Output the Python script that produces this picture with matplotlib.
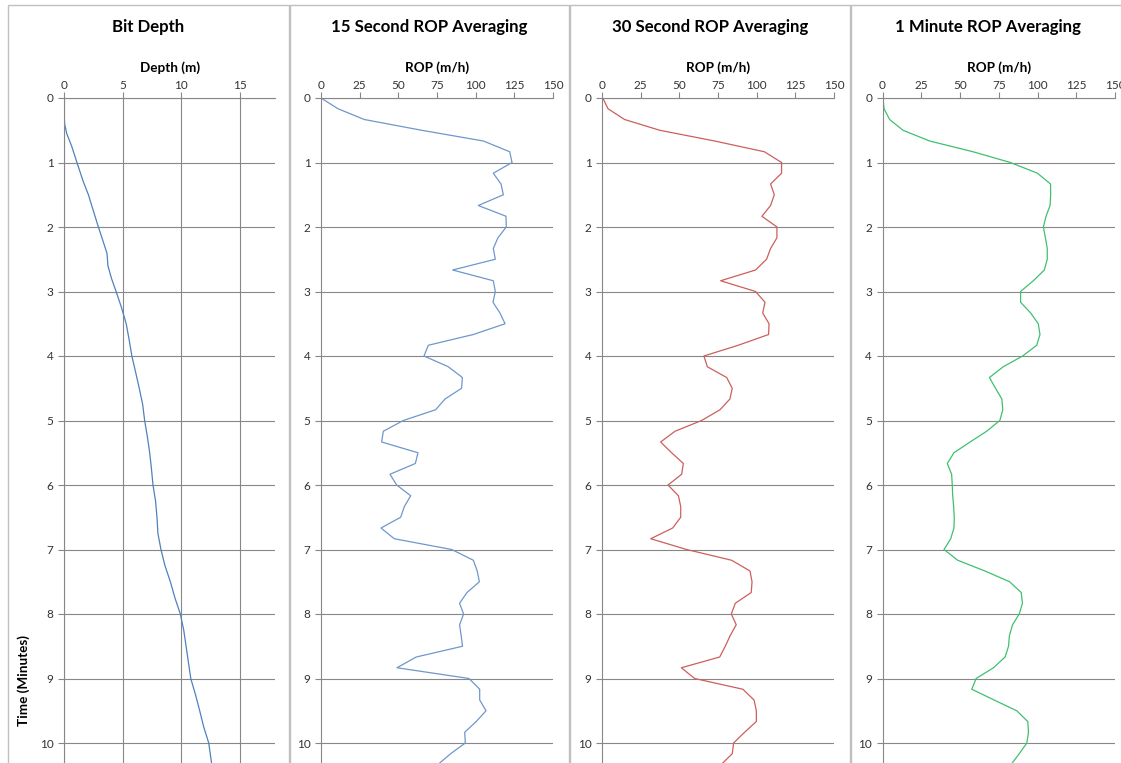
import matplotlib
matplotlib.use("Agg")
import matplotlib.pyplot as plt
from matplotlib.patches import Rectangle
import numpy as np

plt.rcParams['font.family'] = ['Lato', 'DejaVu Sans']

# time samples every 10 seconds
time_s = list(range(0, 630, 10))
minutes = np.array(time_s) / 60.0

# bit depth (m) vs time (min)
depth_t = [0, 0.2, 0.4, 0.55, 0.75, 1.0, 1.3, 1.5, 1.75, 2.0, 2.4, 2.45, 2.6, 2.8,
           3.0, 3.25, 3.5, 3.75, 4.0, 4.25, 4.5, 4.75, 5.0, 5.25, 5.5, 5.75, 6.0,
           6.25, 6.5, 6.75, 7.0, 7.25, 7.5, 7.75, 8.0, 8.25, 8.5, 8.75, 9.0, 9.25,
           9.5, 9.75, 10.0, 10.35]
depth_m = [0, 0, 0.05, 0.23, 0.66, 1.1, 1.65, 2.08, 2.5, 2.93, 3.65, 3.68, 3.74, 4.05,
           4.44, 4.9, 5.3, 5.55, 5.78, 6.1, 6.41, 6.7, 6.87, 7.1, 7.3, 7.45, 7.58,
           7.8, 7.92, 8.0, 8.26, 8.6, 9.06, 9.45, 9.91, 10.2, 10.4, 10.6, 10.8, 11.2,
           11.56, 11.9, 12.33, 12.6]

rop_15s = [0, 11, 28, 65, 105, 122, 123.5, 111.4, 116.4, 117.9, 101.7, 119.6, 119.8,
           114.4, 111.4, 112.7, 85.1, 111.4, 112.7, 111.2, 115.7, 119, 98.5, 69.4,
           66.6, 82.3, 91.4, 90.9, 80.2, 74.1, 53.2, 40.3, 39.2, 62.7, 61, 44.6, 48.9,
           58, 53.9, 51.5, 38.8, 47.4, 84.5, 98.5, 101, 102.4, 94.4, 89.6, 92.2, 89.6,
           90.6, 91.5, 61.6, 49.1, 95.7, 102.6, 102.6, 106.7, 100.4, 92.9, 93.3, 83.8,
           75.6]
rop_30s = [0.5, 3.9, 14.6, 37.3, 72.8, 105, 116.1, 116.1, 109, 111.4, 109, 103.4,
           113.1, 113.1, 109, 106.4, 99.3, 76.7, 99.3, 105.4, 103.9, 108, 107.7, 88.1,
           65.9, 68.1, 80.6, 84.2, 82.7, 76.3, 64.4, 47.2, 37.9, 45, 52.6, 51.5, 42.7,
           49.4, 50.9, 50.9, 45.7, 31.5, 54.7, 83.8, 95.7, 97, 96.5, 86.2, 83.6, 86.8,
           82.9, 79.7, 76.1, 51.3, 59.9, 91.1, 98.3, 99.8, 99.8, 92.2, 85.1, 84.2, 77.1]
rop_1m = [0.3, 1, 4.6, 13.2, 30.4, 58.4, 82.5, 100, 108.4, 108.5, 108.1, 105.5, 103.8,
          105.1, 106.3, 106.3, 104.4, 97.3, 89.1, 89.1, 95.6, 100.5, 101.6, 99.5, 90.4,
          77.9, 69, 72.9, 77, 77.6, 75.7, 67.2, 56.5, 46.1, 41.8, 44.6, 45, 45.3, 45.9,
          46.3, 46.1, 44, 39.7, 48.5, 66.1, 82, 89.5, 90.3, 88.2, 83.9, 81.9, 81.3, 79.1,
          71.6, 60.4, 57.6, 72, 86.6, 93.7, 94.2, 93.1, 88.2, 83]

titles = ['Bit Depth', '15 Second ROP Averaging', '30 Second ROP Averaging',
          '1 Minute ROP Averaging']
xlabels = ['Depth (m)', 'ROP (m/h)', 'ROP (m/h)', 'ROP (m/h)']

W, H = 1121, 763
fig = plt.figure(figsize=(W / 100, H / 100), dpi=100)

grid_col = '#878787'
# panel frames (pixels): left, right
frames = [(8, 289), (290, 569), (570, 850), (851, 1125)]
# plot areas (pixels): left, right
areas = [(64, 275.3), (321, 553), (602, 834), (882.5, 1115)]
top_px = 98
ymax = (H - top_px) / 64.5

for fl, fr in frames:
    fig.patches.append(Rectangle((fl / W, -0.1), (fr - fl) / W, (H - 5) / H + 0.1,
                                 transform=fig.transFigure, fill=False,
                                 edgecolor='#c0c0c0', linewidth=1.0))

axes = []
for i, (al, ar) in enumerate(areas):
    ax = fig.add_axes([al / W, 0, (ar - al) / W, (H - top_px) / H])
    axes.append(ax)
    ax.set_ylim(ymax, 0)
    ax.set_yticks(range(0, 11))
    ax.xaxis.tick_top()
    ax.xaxis.set_label_position('top')
    for s in ['right', 'bottom']:
        ax.spines[s].set_visible(False)
    ax.spines['top'].set_color(grid_col)
    ax.spines['left'].set_color(grid_col)
    ax.tick_params(axis='both', colors=grid_col, labelcolor='#333333',
                   labelsize=8.5, length=4, width=0.8)
    ax.tick_params(axis='x', pad=1)
    ax.grid(axis='y', color=grid_col, linewidth=0.8)
    ax.set_xlabel(xlabels[i], fontsize=9.7, fontweight='bold', labelpad=6)
    cx = (frames[i][0] + frames[i][1]) / 2 / W
    fig.text(cx, 1 - 27 / H, titles[i], ha='center', va='center',
             fontsize=12.1, fontweight='bold', color='black')

ax = axes[0]
ax.set_xlim(0, 18)
ax.set_xticks([0, 5, 10, 15])
ax.grid(axis='x', color=grid_col, linewidth=0.8)
ax.plot(depth_m, depth_t, color='#4f81bd', linewidth=0.9)
ax.set_ylabel('Time (Minutes)', fontsize=9.7, fontweight='bold')
ax.yaxis.set_label_coords((30 - 64) / (areas[0][1] - areas[0][0]), (H - 680) / (H - top_px))

series = [rop_15s, rop_30s, rop_1m]
colors = ['#6f97cc', '#cc5f5c', '#3fc06f']
for ax, vals, c in zip(axes[1:], series, colors):
    ax.set_xlim(0, 150)
    ax.set_xticks(range(0, 151, 25))
    ax.plot(vals, minutes, color=c, linewidth=0.9)

fig.savefig('out.png', dpi=100)
